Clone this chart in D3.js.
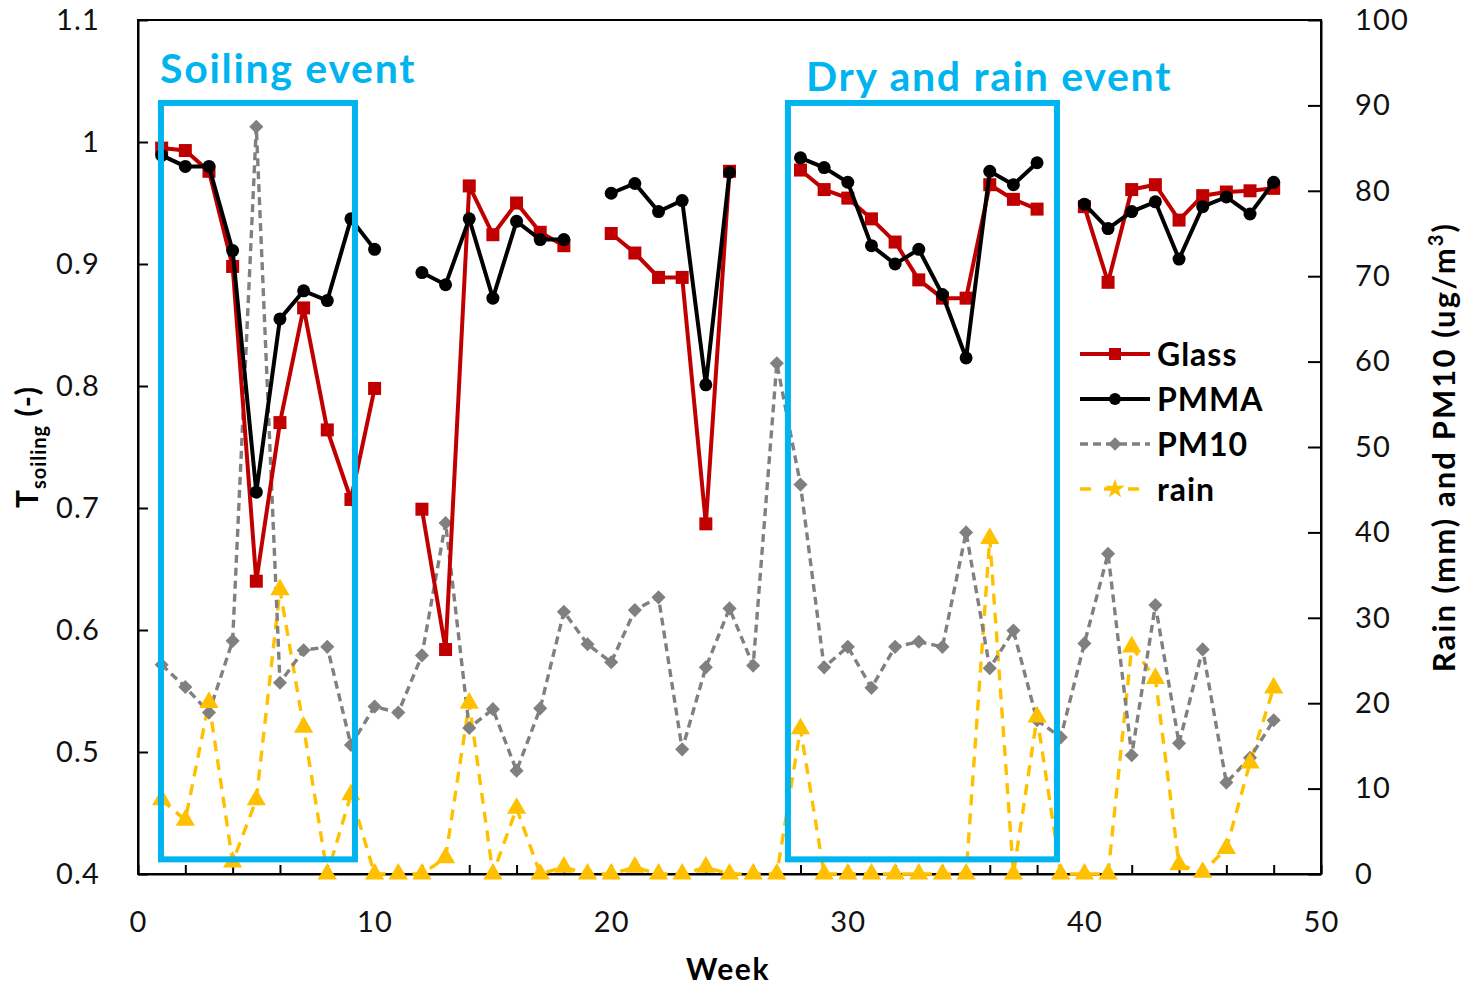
<!DOCTYPE html>
<html>
<head>
<meta charset="utf-8">
<script src="https://cdn.jsdelivr.net/npm/d3@7"></script>
<style>
  html, body { margin: 0; padding: 0; background: #fff; }
  svg { display: block; font-family: Lato, "Open Sans", sans-serif; }
</style>
</head>
<body>
<svg id="chart" width="1470" height="991"></svg>
<script>
// ---------------- data ----------------
const weeks = [1,2,3,4,5,6,7,8,9,10,11,12,13,14,15,16,17,18,19,20,21,22,23,24,25,26,27,28,29,30,31,32,33,34,35,36,37,38,39,40,41,42,43,44,45,46,47,48];
const glass = [0.995,0.993,0.976,0.898,0.640,0.770,0.864,0.764,0.707,0.798,null,0.699,0.584,0.964,0.924,0.950,0.926,0.915,null,0.925,0.909,0.889,0.889,0.687,0.976,null,null,0.977,0.961,0.954,0.937,0.918,0.887,0.872,0.872,0.965,0.953,0.945,null,0.947,0.885,0.961,0.965,0.936,0.956,0.959,0.960,0.962];
const pmma = [0.989,0.980,0.980,0.911,0.713,0.855,0.878,0.870,0.937,0.912,null,0.893,0.883,0.937,0.872,0.935,0.920,0.920,null,0.958,0.966,0.943,0.952,0.801,0.975,null,null,0.987,0.979,0.967,0.915,0.900,0.912,0.875,0.823,0.976,0.965,0.983,null,0.949,0.929,0.943,0.951,0.904,0.947,0.955,0.941,0.967];
const pm10 = [24.5,21.9,18.9,27.3,87.5,22.4,26.2,26.6,15.1,19.6,18.9,25.6,41.1,17.1,19.3,12.1,19.4,30.7,26.9,24.8,30.9,32.4,14.6,24.2,31.1,24.4,59.8,45.6,24.2,26.6,21.8,26.6,27.2,26.6,40.0,24.1,28.5,18.0,16.0,27.0,37.5,13.9,31.5,15.3,26.3,10.7,13.6,18.0];
const rain = [8.7,6.3,20.1,1.4,8.7,33.3,17.2,0,9.3,0,0,0,1.9,20.0,0,7.7,0,0.8,0,0,0.8,0,0,0.8,0,0,0,17.0,0,0,0,0,0,0,0,39.3,0,18.4,0,0,0,26.6,22.9,1.1,0.2,3.0,13.0,21.8];

const xTickLabels = [0,10,20,30,40,50];
const leftTicks = [0.4,0.5,0.6,0.7,0.8,0.9,1.0,1.1];
const rightTicks = [0,10,20,30,40,50,60,70,80,90,100];

// event boxes (data space: weeks / T_soiling)
const eventNames = ["Soiling event", "Dry and rain event"];
const eventWeekStart = [0.97, 27.47];
const eventWeekEnd = [9.17, 38.84];
const eventTop = [1.032, 1.032];
const eventBottom = [0.412, 0.412];

const seriesNames = ["Glass", "PMMA", "PM10", "rain"];

// ---------------- layout ----------------
const svg = d3.select("#chart");
const L = 138, R = 1321, T = 20, B = 874;

const x = d3.scaleLinear().domain([0, 50]).range([L, R]);
const yL = d3.scaleLinear().domain([0.4, 1.1]).range([B, T]);
const yR = d3.scaleLinear().domain([0, 100]).range([B, T]);

const RED = "#C00000", GRAY = "#808080", GOLD = "#FFC000", BLUE = "#00B4EF";

// frame
svg.append("rect").attr("x", L).attr("y", T).attr("width", R - L).attr("height", B - T)
  .attr("fill", "none").attr("stroke", "#000").attr("stroke-width", 2);

// axes
const fontTick = 29;
const gx = svg.append("g").attr("transform", `translate(0,${B})`)
  .call(d3.axisBottom(x).tickValues(d3.range(0, 51, 2)).tickSizeInner(-9).tickSizeOuter(0).tickPadding(37)
    .tickFormat(d => xTickLabels.includes(d) ? d : ""));
const gl = svg.append("g").attr("transform", `translate(${L},0)`)
  .call(d3.axisLeft(yL).tickValues(leftTicks).tickSizeInner(-10).tickSizeOuter(0).tickPadding(38)
    .tickFormat(d => String(Math.round(d * 10) / 10)));
const gr = svg.append("g").attr("transform", `translate(${R},0)`)
  .call(d3.axisRight(yR).tickValues(rightTicks).tickSizeInner(-13).tickSizeOuter(0).tickPadding(34)
    .tickFormat(d => d));
[gx, gl, gr].forEach(g => {
  g.select(".domain").attr("stroke", "#000").attr("stroke-width", 2);
  g.selectAll(".tick line").attr("stroke", "#000").attr("stroke-width", 2);
  g.selectAll(".tick text").attr("font-size", fontTick).attr("fill", "#111")
    .attr("letter-spacing", 1.2).attr("font-family", "Lato, sans-serif");
});

// axis titles
svg.append("text").attr("x", 728).attr("y", 980).attr("text-anchor", "middle")
  .attr("font-size", 30).attr("letter-spacing", 1.6).attr("font-weight", "bold").text("Week");

const lt = svg.append("text").attr("transform", "translate(38,447) rotate(-90)")
  .attr("text-anchor", "middle").attr("font-size", 30).attr("letter-spacing", 1)
  .attr("font-weight", "bold");
lt.append("tspan").text("T");
lt.append("tspan").attr("font-size", 20).attr("dy", 8).text("soiling");
lt.append("tspan").attr("dy", -8).text(" (-)");

const rt = svg.append("text").attr("transform", "translate(1455,447) rotate(-90)")
  .attr("text-anchor", "middle").attr("font-size", 31).attr("letter-spacing", 2.1)
  .attr("font-weight", "bold");
rt.append("tspan").text("Rain (mm) and PM10 (ug/m");
rt.append("tspan").attr("font-size", 20).attr("dy", -12).text("3");
rt.append("tspan").attr("dy", 12).text(")");

// ---------------- series ----------------
const pts = arr => weeks.map((w, i) => ({ w, v: arr[i] }));

// rain (right axis)
const lineR = d3.line().x(d => x(d.w)).y(d => yR(d.v));
svg.append("path").datum(pts(rain)).attr("d", lineR)
  .attr("fill", "none").attr("stroke", GOLD).attr("stroke-width", 3.4).attr("stroke-dasharray", "11,8");
// PM10
svg.append("path").datum(pts(pm10)).attr("d", lineR)
  .attr("fill", "none").attr("stroke", GRAY).attr("stroke-width", 3.4).attr("stroke-dasharray", "8,5");

const tri = d3.symbol().type(d3.symbolTriangle).size(160);
svg.append("g").selectAll("path").data(pts(pm10)).join("path")
  .attr("transform", d => `translate(${x(d.w)},${yR(d.v)}) rotate(45)`)
  .attr("d", d3.symbol().type(d3.symbolSquare).size(100)).attr("fill", GRAY);
svg.append("g").selectAll("path").data(pts(rain)).join("path")
  .attr("transform", d => `translate(${x(d.w)},${yR(d.v)})`)
  .attr("d", tri).attr("fill", GOLD);

// glass & PMMA
const lineL = d3.line().defined(d => d.v != null).x(d => x(d.w)).y(d => yL(d.v));
svg.append("path").datum(pts(glass)).attr("d", lineL)
  .attr("fill", "none").attr("stroke", RED).attr("stroke-width", 4);
svg.append("g").selectAll("rect").data(pts(glass).filter(d => d.v != null)).join("rect")
  .attr("x", d => x(d.w) - 6.5).attr("y", d => yL(d.v) - 6.5).attr("width", 13).attr("height", 13)
  .attr("fill", RED);
svg.append("path").datum(pts(pmma)).attr("d", lineL)
  .attr("fill", "none").attr("stroke", "#000").attr("stroke-width", 4);
svg.append("g").selectAll("circle").data(pts(pmma).filter(d => d.v != null)).join("circle")
  .attr("cx", d => x(d.w)).attr("cy", d => yL(d.v)).attr("r", 6.5).attr("fill", "#000");

// ---------------- event boxes ----------------
eventNames.forEach((name, i) => {
  svg.append("rect")
    .attr("x", x(eventWeekStart[i])).attr("y", yL(eventTop[i]))
    .attr("width", x(eventWeekEnd[i]) - x(eventWeekStart[i]))
    .attr("height", yL(eventBottom[i]) - yL(eventTop[i]))
    .attr("fill", "none").attr("stroke", BLUE).attr("stroke-width", 6);
});
svg.append("text").attr("x", 160).attr("y", 83).attr("font-size", 41).attr("letter-spacing", 1.7)
  .attr("font-weight", "bold").attr("fill", BLUE).text(eventNames[0]);
svg.append("text").attr("x", 806).attr("y", 91).attr("font-size", 41).attr("letter-spacing", 1.7)
  .attr("font-weight", "bold").attr("fill", BLUE).text(eventNames[1]);

// ---------------- legend ----------------
const legY = [354, 399, 444, 489];
const lg = svg.append("g");
seriesNames.forEach((name, i) => {
  const y = legY[i];
  const g = lg.append("g");
  if (i === 0) {
    g.append("line").attr("x1", 1080).attr("x2", 1150).attr("y1", y).attr("y2", y).attr("stroke", RED).attr("stroke-width", 4);
    g.append("rect").attr("x", 1109).attr("y", y - 6).attr("width", 12).attr("height", 12).attr("fill", RED);
  } else if (i === 1) {
    g.append("line").attr("x1", 1080).attr("x2", 1150).attr("y1", y).attr("y2", y).attr("stroke", "#000").attr("stroke-width", 4);
    g.append("circle").attr("cx", 1115).attr("cy", y).attr("r", 6).attr("fill", "#000");
  } else if (i === 2) {
    g.append("line").attr("x1", 1080).attr("x2", 1150).attr("y1", y).attr("y2", y).attr("stroke", GRAY).attr("stroke-width", 3.4).attr("stroke-dasharray", "8,5");
    g.append("path").attr("transform", `translate(1115,${y}) rotate(45)`).attr("d", d3.symbol().type(d3.symbolSquare).size(90)).attr("fill", GRAY);
  } else {
    g.append("line").attr("x1", 1080).attr("x2", 1150).attr("y1", y).attr("y2", y).attr("stroke", GOLD).attr("stroke-width", 3.4).attr("stroke-dasharray", "11,13");
    g.append("path").attr("transform", `translate(1115,${y})`).attr("d", d3.symbol().type(d3.symbolStar).size(120)).attr("fill", GOLD);
  }
  g.append("text").attr("x", 1157).attr("y", y).attr("dy", "0.36em").attr("font-size", 32)
    .attr("letter-spacing", 1).attr("font-weight", "bold").text(name);
});
</script>
</body>
</html>
